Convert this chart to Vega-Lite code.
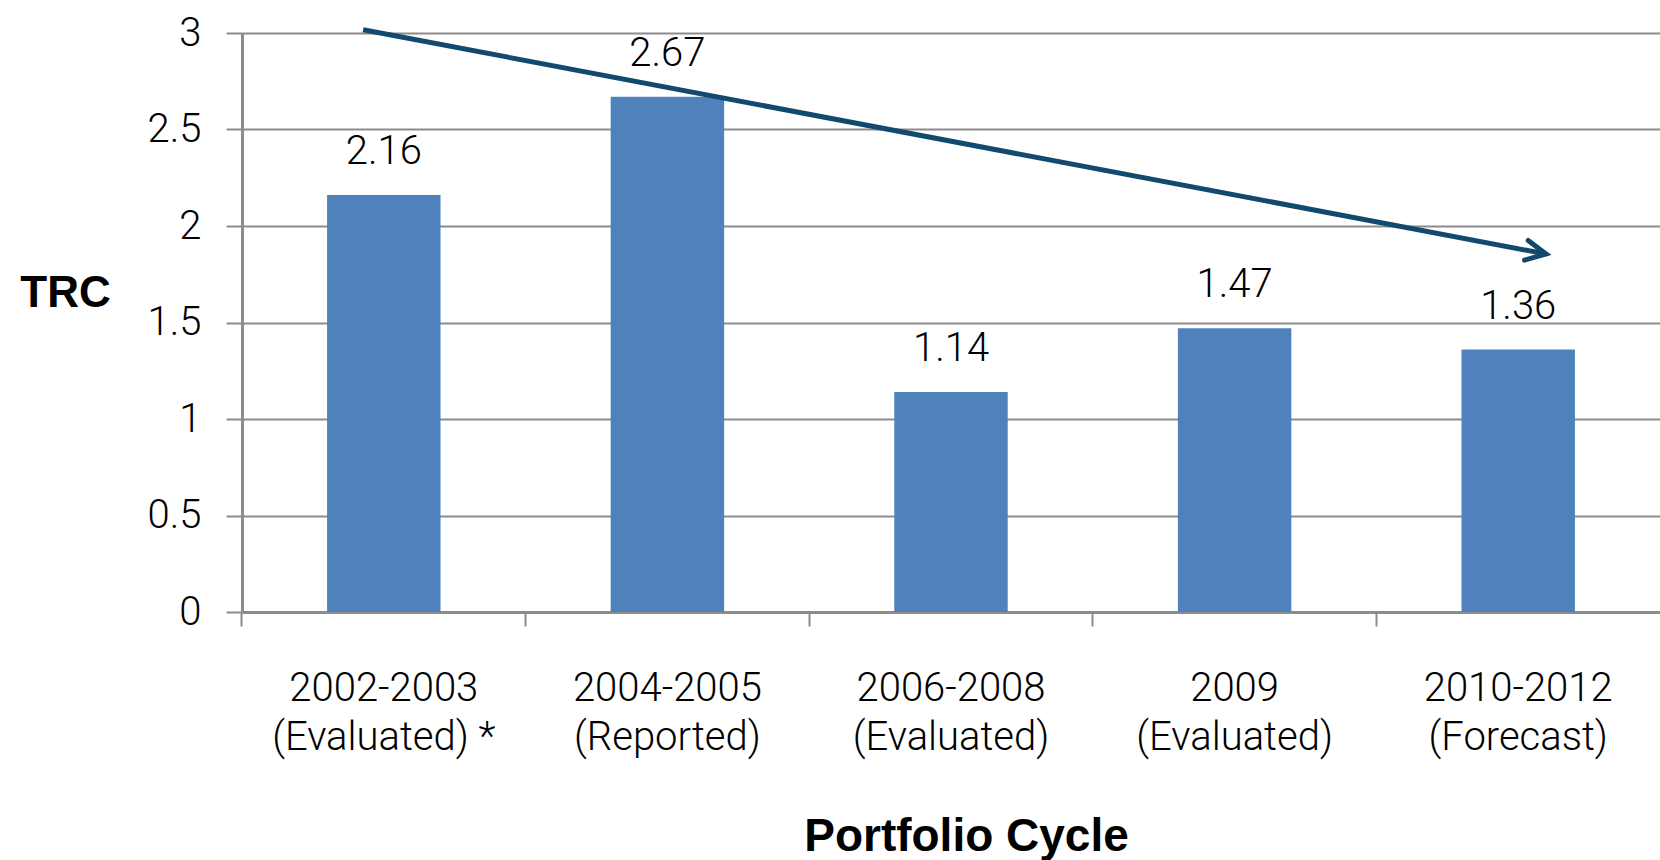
{
  "$schema": "https://vega.github.io/schema/vega-lite/v6.json",
  "width": 1418,
  "height": 579,
  "autosize": {"type": "none"},
  "padding": {"left": 242, "top": 33, "right": 0, "bottom": 248},
  "background": "white",
  "config": {"view": {"stroke": null}},
  "datasets": {
    "bars": [
      {"cycle": "2002-2003 (Evaluated) *", "trc": 2.16},
      {"cycle": "2004-2005 (Reported)", "trc": 2.67},
      {"cycle": "2006-2008 (Evaluated)", "trc": 1.14},
      {"cycle": "2009 (Evaluated)", "trc": 1.47},
      {"cycle": "2010-2012 (Forecast)", "trc": 1.36}
    ],
    "trend": [
      {"pos": 0.427, "trc": 3.017, "end": false},
      {"pos": 4.598, "trc": 1.855, "end": true}
    ]
  },
  "layer": [
    {
      "data": {"name": "bars"},
      "layer": [
        {
          "mark": {"type": "bar", "color": "#4f81bd"},
          "encoding": {
            "x": {
              "field": "cycle", "type": "nominal", "sort": null,
              "scale": {"paddingInner": 0.6, "paddingOuter": 0.3},
              "axis": {
                "title": "Portfolio Cycle",
                "titleFont": "Liberation Sans", "titleFontSize": 46, "titleFontWeight": "bold", "titleColor": "black",
                "titleX": 724, "titleY": 224, "titleAlign": "center", "titleBaseline": "middle", "titleAngle": 0,
                "labelAngle": 0, "labelFont": "Roboto", "labelFontWeight": 300, "labelFontSize": 40, "labelColor": "black",
                "labelLineHeight": 49, "labelPadding": 42, "labelBound": false, "labelOverlap": false, "labelLimit": 0,
                "labelExpr": "[slice(datum.value, 0, indexof(datum.value, ' ')), slice(datum.value, indexof(datum.value, ' ') + 1)]",
                "bandPosition": -0.75, "labelOffset": 0,
                "tickSize": 14, "tickColor": "#8c8c8c", "tickWidth": 2,
                "domainColor": "#8c8c8c", "domainWidth": 3, "grid": false
              }
            },
            "y": {
              "field": "trc", "type": "quantitative",
              "scale": {"domain": [0, 3], "nice": false},
              "axis": {
                "title": "TRC",
                "titleFont": "Liberation Sans", "titleFontSize": 44, "titleFontWeight": "bold", "titleColor": "black",
                "titleX": -177, "titleY": 260, "titleAlign": "center", "titleBaseline": "middle", "titleAngle": 0,
                "values": [0, 0.5, 1, 1.5, 2, 2.5, 3], "format": "~g",
                "labelFont": "Roboto", "labelFontWeight": 300, "labelFontSize": 40, "labelColor": "black", "labelPadding": 25,
                "tickSize": 16, "tickColor": "#8c8c8c", "tickWidth": 2,
                "grid": true, "gridColor": "#8c8c8c", "gridWidth": 2,
                "domainColor": "#8c8c8c", "domainWidth": 3
              }
            }
          }
        },
        {
          "mark": {"type": "text", "baseline": "alphabetic", "dy": -31, "fontSize": 40, "font": "Roboto", "fontWeight": 300, "color": "black"},
          "encoding": {
            "x": {"field": "cycle", "type": "nominal", "sort": null},
            "y": {"field": "trc", "type": "quantitative"},
            "text": {"field": "trc", "type": "quantitative", "format": ".2f"}
          }
        }
      ]
    },
    {
      "data": {"name": "trend"},
      "layer": [
        {
          "mark": {"type": "line", "color": "#124a6e", "strokeWidth": 5},
          "encoding": {
            "x": {"field": "pos", "type": "quantitative", "scale": {"domain": [0, 5], "nice": false}, "axis": null},
            "y": {"field": "trc", "type": "quantitative", "title": "TRC"}
          }
        },
        {
          "transform": [{"filter": "datum.end"}],
          "mark": {"type": "point", "shape": "M-1,-0.5L0,0L-1,0.5", "size": 1600, "filled": false, "stroke": "#124a6e", "strokeWidth": 5, "angle": 10.7, "opacity": 1, "strokeCap": "round", "strokeJoin": "miter"},
          "encoding": {
            "x": {"field": "pos", "type": "quantitative", "scale": {"domain": [0, 5], "nice": false}, "axis": null},
            "y": {"field": "trc", "type": "quantitative", "title": "TRC"}
          }
        }
      ]
    }
  ],
  "resolve": {"scale": {"x": "independent"}}
}
